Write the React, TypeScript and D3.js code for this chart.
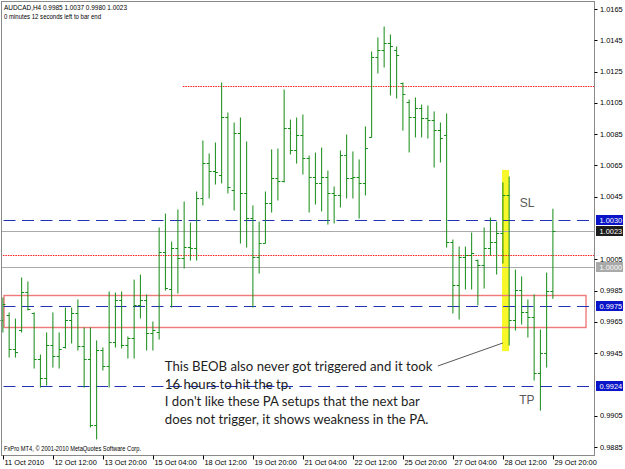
import React from "react";
import * as d3 from "d3";

// ---------- data ----------
const opens = [
  0.99662, 0.99694, 0.99476, 0.99598, 0.99841, 0.99707, 0.99412, 0.99291, 0.99502, 0.99432,
  0.99489, 0.99662, 0.99707, 0.99496, 0.99412, 0.9899, 0.9947, 0.99368, 0.99521, 0.9979,
  0.99502, 0.99547, 0.99758, 0.9979, 0.99579, 0.99585, 1.00096, 0.9986, 1.00122, 1.00058,
  1.00128, 1.00122, 1.00442, 1.00665, 1.00614, 1.00589, 1.0096, 1.00493, 1.00857, 1.00474,
  1.00314, 1.00064, 1.00154, 1.0041, 1.0057, 1.0055, 1.00889, 1.00749, 1.00844, 1.00697,
  1.00576, 1.00538, 1.00576, 1.00474, 1.00461, 1.00717, 1.0057, 1.00576, 1.00538, 1.00832,
  1.01343, 1.01388, 1.01433, 1.01388, 1.01177, 1.01055, 1.0096, 1.01017, 1.00953, 1.0094,
  1.00876, 1.00844, 1.0016, 0.99885, 1.00064, 1.00077, 1.00045, 1.00013, 1.00122, 1.0016,
  1.00218, 1.00461, 0.99662, 0.99853, 0.99713, 0.99681, 0.99323, 0.99451, 0.9985,
];
const highs = [
  0.99802, 0.99707, 0.99668, 0.9993, 0.99905, 0.99707, 0.99438, 0.99579, 0.99707, 0.99579,
  0.99738, 0.99738, 0.9979, 0.99611, 0.99611, 0.99528, 0.99483, 0.99841, 0.99834, 0.99841,
  0.99553, 0.99917, 0.99949, 0.99822, 0.99649, 1.0025, 1.00339, 1.0016, 1.00365, 1.00416,
  1.00282, 1.0048, 1.00806, 1.00723, 1.00793, 1.01177, 1.00985, 1.00921, 1.00953, 1.008,
  1.00391, 1.00288, 1.0048, 1.00749, 1.00755, 1.01132, 1.0094, 1.00953, 1.00972, 1.0071,
  1.00729, 1.00761, 1.00614, 1.00512, 1.00742, 1.00844, 1.00736, 1.00685, 1.00896, 1.01375,
  1.01465, 1.01535, 1.01484, 1.01407, 1.01177, 1.01068, 1.01081, 1.01036, 1.0103, 1.00992,
  1.00921, 1.00979, 1.00173, 1.00128, 1.00128, 1.00218, 1.00045, 1.0025, 1.00314, 1.00288,
  1.00538, 1.00576, 0.99981, 0.99937, 0.9979, 0.99822, 0.99598, 0.99962, 1.0037,
];
const lows = [
  0.99585, 0.99425, 0.99425, 0.99585, 0.99726, 0.99355, 0.99233, 0.99246, 0.99361, 0.99355,
  0.99483, 0.99515, 0.9947, 0.99233, 0.98978, 0.98901, 0.99342, 0.99233, 0.99489, 0.99483,
  0.99419, 0.99419, 0.99675, 0.9947, 0.9947, 0.9954, 0.99853, 0.99745, 0.99834, 0.99994,
  1.00045, 1.00045, 1.00397, 1.00442, 1.00531, 1.00538, 1.00474, 1.00365, 1.00154, 1.00128,
  0.99745, 0.99962, 1.00154, 1.00352, 1.00429, 1.00544, 1.00723, 1.00665, 1.00595, 1.00352,
  1.00403, 1.00359, 1.00275, 1.00282, 1.00384, 1.00442, 1.00442, 1.00314, 1.00461, 1.00832,
  1.01241, 1.01279, 1.011, 1.01081, 1.00876, 1.00736, 1.00832, 1.00832, 1.00825, 1.0064,
  1.00672, 1.00128, 0.99707, 0.99668, 0.9986, 0.9986, 0.99758, 0.99866, 1.00077, 0.99956,
  1.00026, 0.99502, 0.99598, 0.99636, 0.99553, 0.99278, 0.99086, 0.99361, 0.998,
];
const closes = [
  0.99764, 0.99476, 0.99457, 0.99841, 0.99732, 0.99412, 0.99291, 0.99502, 0.99432, 0.99476,
  0.99662, 0.99707, 0.99496, 0.99412, 0.9899, 0.9947, 0.99368, 0.99521, 0.9979, 0.99502,
  0.99547, 0.99758, 0.9979, 0.99579, 0.99598, 1.00096, 0.99866, 1.00122, 1.00058, 1.00128,
  1.00122, 1.00442, 1.00665, 1.00614, 1.00608, 1.0096, 1.00512, 1.00857, 1.00474, 1.00314,
  1.00064, 1.00154, 1.0041, 1.0057, 1.0055, 1.00889, 1.00749, 1.00844, 1.00697, 1.00576,
  1.00538, 1.00576, 1.00474, 1.00461, 1.00717, 1.0057, 1.00576, 1.00538, 1.00761, 1.01343,
  1.01388, 1.01433, 1.01413, 1.01356, 1.01107, 1.0096, 1.01017, 1.00953, 1.0094, 1.00876,
  1.00825, 1.0016, 0.99885, 1.00064, 1.00077, 1.0009, 1.00013, 1.00122, 1.0016, 1.00218,
  1.00461, 0.99662, 0.99853, 0.99713, 0.99681, 0.99323, 0.99451, 0.99847, 1.0023,
];

const dateLabels = [
  "11 Oct 2010", "12 Oct 12:00", "13 Oct 20:00", "15 Oct 04:00", "18 Oct 12:00", "19 Oct 20:00",
  "21 Oct 04:00", "22 Oct 12:00", "25 Oct 20:00", "27 Oct 04:00", "28 Oct 12:00", "29 Oct 20:00",
];
const dateLabelBars = [0, 8, 16, 24, 32, 40, 48, 56, 64, 72, 80, 88];

const priceTicks = [
  1.0165, 1.0145, 1.0125, 1.0105, 1.0085, 1.0065, 1.0045, 1.0005, 0.9985, 0.9965, 0.9945, 0.9905, 0.9885,
];

const dashedLevels = [1.003, 0.9975, 0.9924];
const grayLevels = [1.0023, 1.0];
const redLevels = [1.0116, 1.0008];
const redLevelStart = [28.8, 0];

const boxPrices = [1.003, 1.0023, 1.0, 0.9975, 0.9924];

const zoneTop = 0.99822;
const zoneBottom = 0.99617;
const zoneFrom = 0.18;
const zoneTo = 93.3;

const highlightFrom = 79.86;
const highlightTo = 80.98;
const highlightTop = 1.00621;
const highlightBottom = 0.99463;

const noteLines = [
  "This BEOB also never got triggered and it took",
  "16 hours to hit the tp.",
  "I don't like these PA setups that the next bar",
  "does not trigger, it shows weakness in the PA.",
];
const noteAnchorBar = 25.9;
const noteAnchorPrice = 0.99336;
const leaderFrom = [69.6, 0.99368];
const leaderTo = [80.0, 0.99515];
const slLabel = { bar: 82.7, price: 1.00384, text: "SL" };
const tpLabel = { bar: 82.6, price: 0.99125, text: "TP" };

const headerLine1 = "AUDCAD,H4  0.9985 1.0037 0.9980 1.0023";
const headerLine2 = "0 minutes 12 seconds left to bar end";
const footer = "FxPro MT4, \u00a9 2001-2010 MetaQuotes Software Corp.";

// ---------- layout ----------
const W = 625;
const H = 469;
const frame = { left: 1.5, top: 1.5, right: 594.5, bottom: 455.5 };
const x = d3.scaleLinear().domain([0, 88]).range([2.9, 552.9]);
const y = d3.scaleLinear().domain([0.9885, 1.0165]).range([447, 9]);
const snap = (v: number) => Math.round(v) + 0.5;

const BAR = "#138a13";
const AX_FONT = "'Liberation Sans', Arial, sans-serif";

export default function App() {
  const boxFill = ["#0a14c8", "#1c1c1c", "#a9a9a9", "#0a14c8", "#0a14c8"];
  return (
    <svg
      width={W}
      height={H}
      style={{ position: "absolute", left: 0, top: 0, background: "#fff" }}
    >
      <rect x={0} y={0} width={W} height={H} fill="#fff" />

      {/* highlight */}
      <rect
        x={x(highlightFrom)}
        y={y(highlightTop)}
        width={x(highlightTo) - x(highlightFrom)}
        height={y(highlightBottom) - y(highlightTop)}
        fill="#f7f72a"
      />

      {/* gray levels */}
      {grayLevels.map((p, i) => (
        <line key={"g" + i} x1={frame.left} x2={frame.right} y1={snap(y(p))} y2={snap(y(p))} stroke="#aaaaaa" strokeWidth={1} />
      ))}
      {/* red dotted levels */}
      {redLevels.map((p, i) => (
        <line
          key={"r" + i}
          x1={Math.max(frame.left, x(redLevelStart[i]))}
          x2={frame.right}
          y1={snap(y(p))}
          y2={snap(y(p))}
          stroke="#ff1a1a"
          strokeWidth={1}
          strokeDasharray="1.5 1"
        />
      ))}
      {/* zone rectangle */}
      <rect
        x={x(zoneFrom)}
        y={snap(y(zoneTop))}
        width={x(zoneTo) - x(zoneFrom)}
        height={Math.round(y(zoneBottom) - y(zoneTop))}
        fill="none"
        stroke="#f07a7a"
        strokeWidth={1.4}
      />
      {/* dashed levels */}
      {dashedLevels.map((p, i) => (
        <line
          key={"d" + i}
          x1={frame.left + 2}
          x2={frame.right}
          y1={snap(y(p))}
          y2={snap(y(p))}
          stroke="#2232b4"
          strokeWidth={1}
          strokeDasharray="12 6.5"
        />
      ))}

      {/* OHLC bars */}
      <g stroke={BAR} strokeWidth={1}>
        {opens.map((o, i) => {
          const cx = x(i);
          const yo = snap(y(o));
          const yc = snap(y(closes[i]));
          return (
            <g key={i}>
              <line x1={cx} x2={cx} y1={y(highs[i]) - 0.5} y2={y(lows[i]) + 0.5} />
              <line x1={cx - 2.5} x2={cx} y1={yo} y2={yo} />
              <line x1={cx} x2={cx + 2.5} y1={yc} y2={yc} />
            </g>
          );
        })}
      </g>

      {/* annotation */}
      <line
        x1={x(leaderFrom[0])}
        y1={y(leaderFrom[1])}
        x2={x(leaderTo[0])}
        y2={y(leaderTo[1])}
        stroke="#444"
        strokeWidth={0.9}
      />
      <g fontFamily="Lato, 'Open Sans', sans-serif" fontSize={13.2} fill="#1e1e1e">
        {noteLines.map((t, i) => (
          <text key={i} x={x(noteAnchorBar)} y={y(noteAnchorPrice) + i * 17.6}>
            {t}
          </text>
        ))}
      </g>
      <text x={x(slLabel.bar)} y={y(slLabel.price)} fontFamily={AX_FONT} fontSize={12} fill="#5a5a5a">
        {slLabel.text}
      </text>
      <text x={x(tpLabel.bar)} y={y(tpLabel.price)} fontFamily={AX_FONT} fontSize={12} fill="#5a5a5a">
        {tpLabel.text}
      </text>

      {/* header + footer */}
      <g fontFamily={AX_FONT} fontSize={7.2} fill="#000" style={{ whiteSpace: "pre" }}>
        <text x={4} y={9.5} textLength={123} lengthAdjust="spacingAndGlyphs">{headerLine1}</text>
        <text x={4} y={18.5} textLength={97} lengthAdjust="spacingAndGlyphs">{headerLine2}</text>
        <text x={4} y={451} textLength={137} lengthAdjust="spacingAndGlyphs">{footer}</text>
      </g>

      {/* frame */}
      <rect
        x={frame.left}
        y={frame.top}
        width={frame.right - frame.left}
        height={frame.bottom - frame.top}
        fill="none"
        stroke="#8a8a8a"
        strokeWidth={1}
      />

      {/* right price axis */}
      <g fontFamily={AX_FONT} fontSize={7.4} fill="#000">
        {priceTicks.map((p, i) => (
          <g key={"pt" + i}>
            <line x1={frame.right} x2={frame.right + 3} y1={snap(y(p))} y2={snap(y(p))} stroke="#000" />
            <text x={600} y={y(p)} dy="0.35em">
              {p.toFixed(4)}
            </text>
          </g>
        ))}
      </g>
      {boxPrices.map((p, i) => (
        <g key={"bx" + i}>
          <rect x={596} y={Math.round(y(p)) - 5} width={27} height={10} fill={boxFill[i]} />
          <text
            x={599.5}
            y={y(p)}
            dy="0.35em"
            fontFamily={AX_FONT}
            fontSize={7.4}
            fill="#fff"
          >
            {p.toFixed(4)}
          </text>
        </g>
      ))}

      {/* time axis */}
      <g fontFamily={AX_FONT} fontSize={7.4} fill="#000">
        {dateLabels.map((t, i) => {
          const bx = Math.round(x(dateLabelBars[i])) + 0.5;
          return (
            <g key={"dl" + i}>
              <line x1={bx} x2={bx} y1={frame.bottom} y2={frame.bottom + 4} stroke="#000" />
              <text x={bx + 1} y={465}>
                {t}
              </text>
            </g>
          );
        })}
      </g>
    </svg>
  );
}
